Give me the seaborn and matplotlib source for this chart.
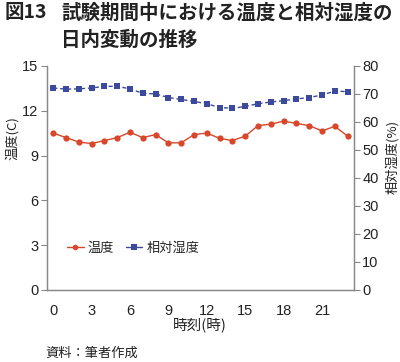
import matplotlib
matplotlib.use("Agg")
import matplotlib.pyplot as plt
import seaborn as sns
import pandas as pd
from matplotlib.lines import Line2D

sns.set_style("white")
plt.rcParams['font.family'] = ['Noto Sans CJK JP', 'DejaVu Sans']

hours = list(range(24))
temperature = [10.5, 10.2, 9.9, 9.8, 10.0, 10.2, 10.55, 10.2, 10.4, 9.85, 9.85, 10.4,
               10.5, 10.15, 10.0, 10.3, 11.0, 11.1, 11.3, 11.15, 11.0, 10.65, 10.95, 10.3]
humidity = [72.1, 71.7, 71.8, 72.1, 72.7, 72.7, 71.8, 70.2, 70.0, 68.7, 68.0, 67.3,
            66.5, 65.1, 64.9, 65.5, 66.5, 67.1, 67.6, 68.2, 68.7, 69.6, 71.0, 70.8]
xticks = [0, 3, 6, 9, 12, 15, 18, 21]
left_ticks = [0, 3, 6, 9, 12, 15]
right_ticks = [0, 10, 20, 30, 40, 50, 60, 70, 80]

df = pd.DataFrame({"hour": hours, "temp": temperature, "hum": humidity})

red = "#D9472B"
blue = "#3C4A9E"
gray = "#888888"
txt = "#222222"
numfont = ['Liberation Sans', 'DejaVu Sans']

W, H = 400, 362
fig = plt.figure(figsize=(4.0, 3.62), dpi=100)
ax = fig.add_axes([0.117, 0.199, 0.768, 0.619])
ax2 = ax.twinx()

sns.lineplot(data=df, x="hour", y="temp", ax=ax, color=red, marker="o",
             markersize=4.5, markeredgewidth=0, linewidth=1.0)
sns.lineplot(data=df, x="hour", y="hum", ax=ax2, color=blue, marker="s",
             markersize=4.5, markeredgewidth=0, linewidth=1.0, linestyle=(0, (3, 2)))

ax.set_xlim(-0.5, 23.5)
ax.set_ylim(0, 15)
ax2.set_ylim(0, 80)
ax.set_yticks(left_ticks)
ax2.set_yticks(right_ticks)
ax.set_yticklabels([str(v) for v in left_ticks], family=numfont, fontsize=10.5)
ax2.set_yticklabels([str(v) for v in right_ticks], family=numfont, fontsize=10.5)
ax.set_xticks([h - 0.5 for h in range(25)])
ax.set_xticklabels([])
for t in xticks:
    ax.text(t, -0.95, str(t), ha="center", va="top", fontsize=10.5, color=txt, family=numfont)

ax.tick_params(axis="x", direction="in", length=4, color=gray, width=0.8)
ax.tick_params(axis="y", direction="out", length=4, color=gray, width=0.8,
               labelcolor=txt, pad=2)
ax2.tick_params(axis="y", direction="out", length=4, color=gray, width=0.8,
                labelcolor=txt, pad=2)

for a in (ax, ax2):
    a.spines["top"].set_visible(False)
    for s in ("left", "right", "bottom"):
        a.spines[s].set_color(gray)
        a.spines[s].set_linewidth(0.9)
    a.grid(False)

ax.set_xlabel("")
ax.set_ylabel("")
ax2.set_ylabel("")
fig.text(12 / W, 1 - 138 / H, "温度(C)", rotation=90, ha="center", va="center",
         fontsize=9.5, color=txt)
fig.text(392 / W, 1 - 157 / H, "相対湿度(%)", rotation=90, ha="center", va="center",
         fontsize=9.5, color=txt)
fig.text(200 / W, 1 - 325 / H, "時刻(時)", ha="center", va="center", fontsize=10.5, color=txt)

handles = [Line2D([], [], color=red, marker="o", markersize=4, markeredgewidth=0, linewidth=1.0),
           Line2D([], [], color=blue, marker="s", markersize=4, markeredgewidth=0, linewidth=1.0)]
ax.legend(handles, ["温度", "相対湿度"], loc="center left",
          bbox_to_anchor=((67 - 46.7) / 307.3, (290 - 248) / 224),
          frameon=False, fontsize=9.5, ncol=2, handlelength=1.25, handletextpad=0.3,
          columnspacing=0.9, borderpad=0, borderaxespad=0)

fig.text(5 / W, 1 - 13 / H, "図13", fontsize=14, fontweight="bold", va="center", ha="left", color=txt)
fig.text(61 / W, 1 - 13 / H, "試験期間中における温度と相対湿度の", fontsize=14, fontweight="bold",
         va="center", ha="left", color=txt)
fig.text(61 / W, 1 - 40 / H, "日内変動の推移", fontsize=14, fontweight="bold",
         va="center", ha="left", color=txt)
fig.text(45 / W, 1 - 353 / H, "資料：筆者作成", fontsize=9.5, va="center", ha="left", color=txt)

fig.savefig("out.png", dpi=100)
